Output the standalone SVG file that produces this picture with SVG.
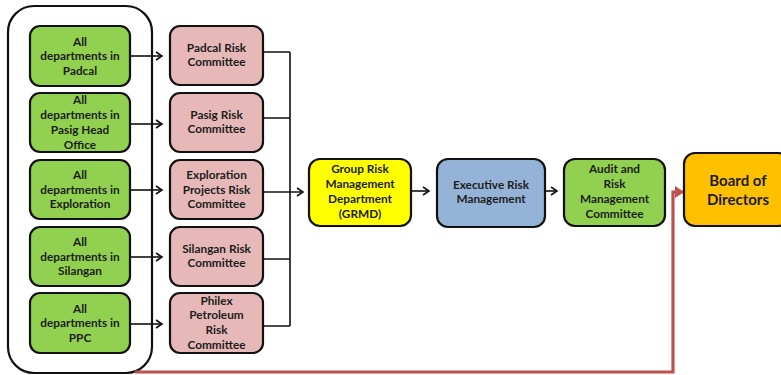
<svg xmlns="http://www.w3.org/2000/svg" width="781" height="375" viewBox="0 0 781 375">
<style>
.n{stroke:#111;stroke-width:2.2}
.g{fill:#92D050}
.p{fill:#E6B9B8}
.t{font-family:"Lato","Open Sans",sans-serif;font-weight:bold;font-size:11.8px;fill:#1c1c1c;text-anchor:middle}
.b{font-size:15px}
.c{stroke:#111;stroke-width:1.6;fill:none}
.r{stroke:#C0504D;stroke-width:3.2;fill:none}
</style>
<defs>
<marker id="a" markerWidth="10" markerHeight="10" refX="7" refY="5" orient="auto" markerUnits="userSpaceOnUse">
<path d="M1,1 L7,5 L1,9" fill="none" stroke="#111" stroke-width="1.6"/>
</marker>
<marker id="ar" markerWidth="12" markerHeight="14" refX="10" refY="7" orient="auto" markerUnits="userSpaceOnUse">
<path d="M1,1 L10,7 L1,13 Z" fill="#C0504D"/>
</marker>
</defs>
<rect x="8" y="6" width="144" height="367" rx="26" fill="none" stroke="#111" stroke-width="2.2"/>
<g id="connectors">
<path class="c" d="M130,56 H162" marker-end="url(#a)"/>
<path class="c" d="M130,124 H162" marker-end="url(#a)"/>
<path class="c" d="M130,190 H162" marker-end="url(#a)"/>
<path class="c" d="M130,257 H162" marker-end="url(#a)"/>
<path class="c" d="M130,324 H162" marker-end="url(#a)"/>
<path class="c" d="M263,52 H290 M263,118 H290 M263,259 H290 M263,326 H290 M290,52 V326"/>
<path class="c" d="M263,192 H303" marker-end="url(#a)"/>
<path class="c" d="M411,191 H429" marker-end="url(#a)"/>
<path class="c" d="M545,191 H557" marker-end="url(#a)"/>
<path class="r" d="M135,372 H673 V192 H684" marker-end="url(#ar)"/>
</g>
<g id="g1"><rect class="n g" x="30" y="26" width="100" height="60" rx="10"/><text class="t"><tspan x="80" y="46">All</tspan><tspan x="80" y="60">departments in</tspan><tspan x="80" y="75">Padcal</tspan></text></g>
<g id="g2"><rect class="n g" x="30" y="93" width="100" height="59" rx="10"/><text class="t"><tspan x="80" y="104">All</tspan><tspan x="80" y="119">departments in</tspan><tspan x="80" y="134">Pasig Head</tspan><tspan x="80" y="149">Office</tspan></text></g>
<g id="g3"><rect class="n g" x="30" y="160" width="100" height="59" rx="10"/><text class="t"><tspan x="80" y="179">All</tspan><tspan x="80" y="194">departments in</tspan><tspan x="80" y="208">Exploration</tspan></text></g>
<g id="g4"><rect class="n g" x="30" y="227" width="100" height="59" rx="10"/><text class="t"><tspan x="80" y="246">All</tspan><tspan x="80" y="261">departments in</tspan><tspan x="80" y="275">Silangan</tspan></text></g>
<g id="g5"><rect class="n g" x="30" y="293" width="100" height="60" rx="10"/><text class="t"><tspan x="80" y="313">All</tspan><tspan x="80" y="327">departments in</tspan><tspan x="80" y="342">PPC</tspan></text></g>
<g id="p1"><rect class="n p" x="170" y="26" width="93" height="59" rx="10"/><text class="t"><tspan x="216.5" y="52">Padcal Risk</tspan><tspan x="216.5" y="66">Committee</tspan></text></g>
<g id="p2"><rect class="n p" x="170" y="93" width="93" height="59" rx="10"/><text class="t"><tspan x="216.5" y="119">Pasig Risk</tspan><tspan x="216.5" y="133">Committee</tspan></text></g>
<g id="p3"><rect class="n p" x="170" y="160" width="93" height="59" rx="10"/><text class="t"><tspan x="216.5" y="179">Exploration</tspan><tspan x="216.5" y="194">Projects Risk</tspan><tspan x="216.5" y="208">Committee</tspan></text></g>
<g id="p4"><rect class="n p" x="170" y="227" width="93" height="59" rx="10"/><text class="t"><tspan x="216.5" y="253">Silangan Risk</tspan><tspan x="216.5" y="267">Committee</tspan></text></g>
<g id="p5"><rect class="n p" x="170" y="293" width="93" height="60" rx="10"/><text class="t"><tspan x="216.5" y="305">Philex</tspan><tspan x="216.5" y="319">Petroleum</tspan><tspan x="216.5" y="334">Risk</tspan><tspan x="216.5" y="349">Committee</tspan></text></g>
<g id="grmd"><rect class="n" fill="#FFFF00" x="309" y="159" width="102" height="67" rx="11"/><text class="t"><tspan x="360" y="173">Group Risk</tspan><tspan x="360" y="188">Management</tspan><tspan x="360" y="203">Department</tspan><tspan x="360" y="218">(GRMD)</tspan></text></g>
<g id="exec"><rect class="n" fill="#95B3D7" x="437" y="159" width="108" height="68" rx="11"/><text class="t"><tspan x="491" y="189">Executive Risk</tspan><tspan x="491" y="203">Management</tspan></text></g>
<g id="audit"><rect class="n g" x="564" y="159" width="101" height="67" rx="11"/><text class="t"><tspan x="614.5" y="173">Audit  and</tspan><tspan x="614.5" y="188">Risk</tspan><tspan x="614.5" y="203">Management</tspan><tspan x="614.5" y="218">Committee</tspan></text></g>
<g id="board"><rect class="n" fill="#FFC000" x="684" y="153" width="105" height="73" rx="11"/><text class="t b"><tspan x="738" y="186">Board of</tspan><tspan x="738" y="205">Directors</tspan></text></g>
</svg>
